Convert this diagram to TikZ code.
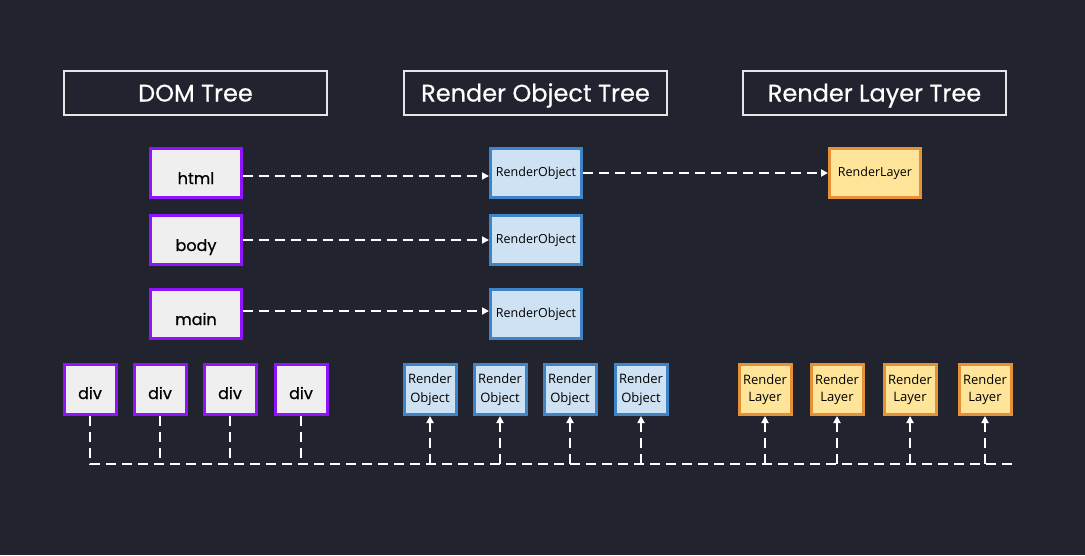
\documentclass[tikz,border=0pt]{standalone}
\usepackage{fontspec}
\setmainfont{Open Sans}
\newfontfamily\headfont{Poppins}[FakeBold=0.6]
\usetikzlibrary{arrows.meta}

\definecolor{bgdark}{HTML}{21232E}
\definecolor{dompurple}{HTML}{9013FE}
\definecolor{domfill}{HTML}{EFEFEF}
\definecolor{roblue}{HTML}{3D85C6}
\definecolor{rofill}{HTML}{CFE2F3}
\definecolor{rlorange}{HTML}{E69138}
\definecolor{rlfill}{HTML}{FFE599}

\begin{document}
\begin{tikzpicture}[x=1pt, y=-1pt,
    every node/.style = {draw, line width=3pt, inner sep=0pt},
    titlebox/.style   = {draw=white!90!black, line width=1.5pt, minimum width=263pt,
                         minimum height=44pt, text=white, text height=17pt, text depth=0pt,
                         font=\headfont\fontsize{24}{28}\selectfont},
    domv/.style       = {draw=dompurple, fill=domfill, minimum width=91pt, minimum height=49pt,
                         font=\headfont\fontsize{16}{18}\selectfont,
                         text height=22pt, text depth=0pt},
    divv/.style       = {draw=dompurple, fill=domfill, minimum width=52pt, minimum height=50pt,
                         font=\headfont\fontsize{16}{18}\selectfont,
                         text height=19pt, text depth=0pt},
    rov/.style        = {draw=roblue, fill=rofill, minimum width=91pt, minimum height=49pt,
                         font=\fontsize{12.5}{14}\selectfont},
    rlv/.style        = {draw=rlorange, fill=rlfill, minimum width=91pt, minimum height=49pt,
                         font=\fontsize{12.5}{14}\selectfont},
    smallro/.style    = {rov, minimum width=52pt, minimum height=50pt, align=center,
                         font=\fontsize{13}{19}\selectfont},
    smallrl/.style    = {rlv, minimum width=52pt, minimum height=50pt, align=center,
                         font=\fontsize{13}{17}\selectfont},
    link/.style       = {draw=white, line width=2.2pt, dash pattern=on 10pt off 6pt,
                         -{Triangle[length=7pt, width=7pt]}},
    bus/.style        = {draw=white, line width=2.2pt, dash pattern=on 10pt off 6pt}
    ]
      \fill[bgdark] (0,0) rectangle (1085,555);
      \useasboundingbox (0,0) rectangle (1085,555);

      % titles ---------------------------------------------------
      \node[titlebox] (tdom)   at (195.5,93)  {DOM Tree};
      \node[titlebox] (tobj)   at (535.5,93)  {Render Object Tree};
      \node[titlebox] (tlayer) at (874.5,93)  {Render Layer Tree};

      % vertices -------------------------------------------------
      \node[domv] (html) at (196,173) {html};
      \node[domv] (body) at (196,240) {body};
      \node[domv] (main) at (196,314) {main};

      \node[rov] (rohtml) at (536,173) {RenderObject};
      \node[rov] (robody) at (536,240) {RenderObject};
      \node[rov] (romain) at (536,314) {RenderObject};

      \node[rlv] (rlhtml) at (875,173) {RenderLayer};

      \foreach \i/\x in {1/90, 2/160, 3/230, 4/301}
        \node[divv] (div\i) at (\x,389.5) {div};
      \foreach \i/\x in {1/430, 2/500, 3/570, 4/641}
        \node[smallro] (ro\i) at (\x,389.5) {Render\\Object};
      \foreach \i/\x in {1/765, 2/837, 3/910, 4/985}
        \node[smallrl] (rl\i) at (\x,389.5) {Render\\Layer};

      % edges ----------------------------------------------------
      \draw[link] (html.east |- 0,176) -- (rohtml.west |- 0,176);
      \draw[link] (body) -- (robody);
      \draw[link] (main.east |- 0,311) -- (romain.west |- 0,311);
      \draw[link] (rohtml) -- (rlhtml);

      \coordinate (busend) at (1013,464);
      \draw[bus] (div1.south) -- (div1.south |- busend) -- (busend);
      \foreach \i in {2,3,4}
        \draw[bus] (div\i.south) -- (div\i.south |- busend);
      \foreach \i in {1,...,4}{
        \draw[link] (ro\i.south |- busend) -- (ro\i.south);
        \draw[link] (rl\i.south |- busend) -- (rl\i.south);
      }
\end{tikzpicture}
\end{document}
